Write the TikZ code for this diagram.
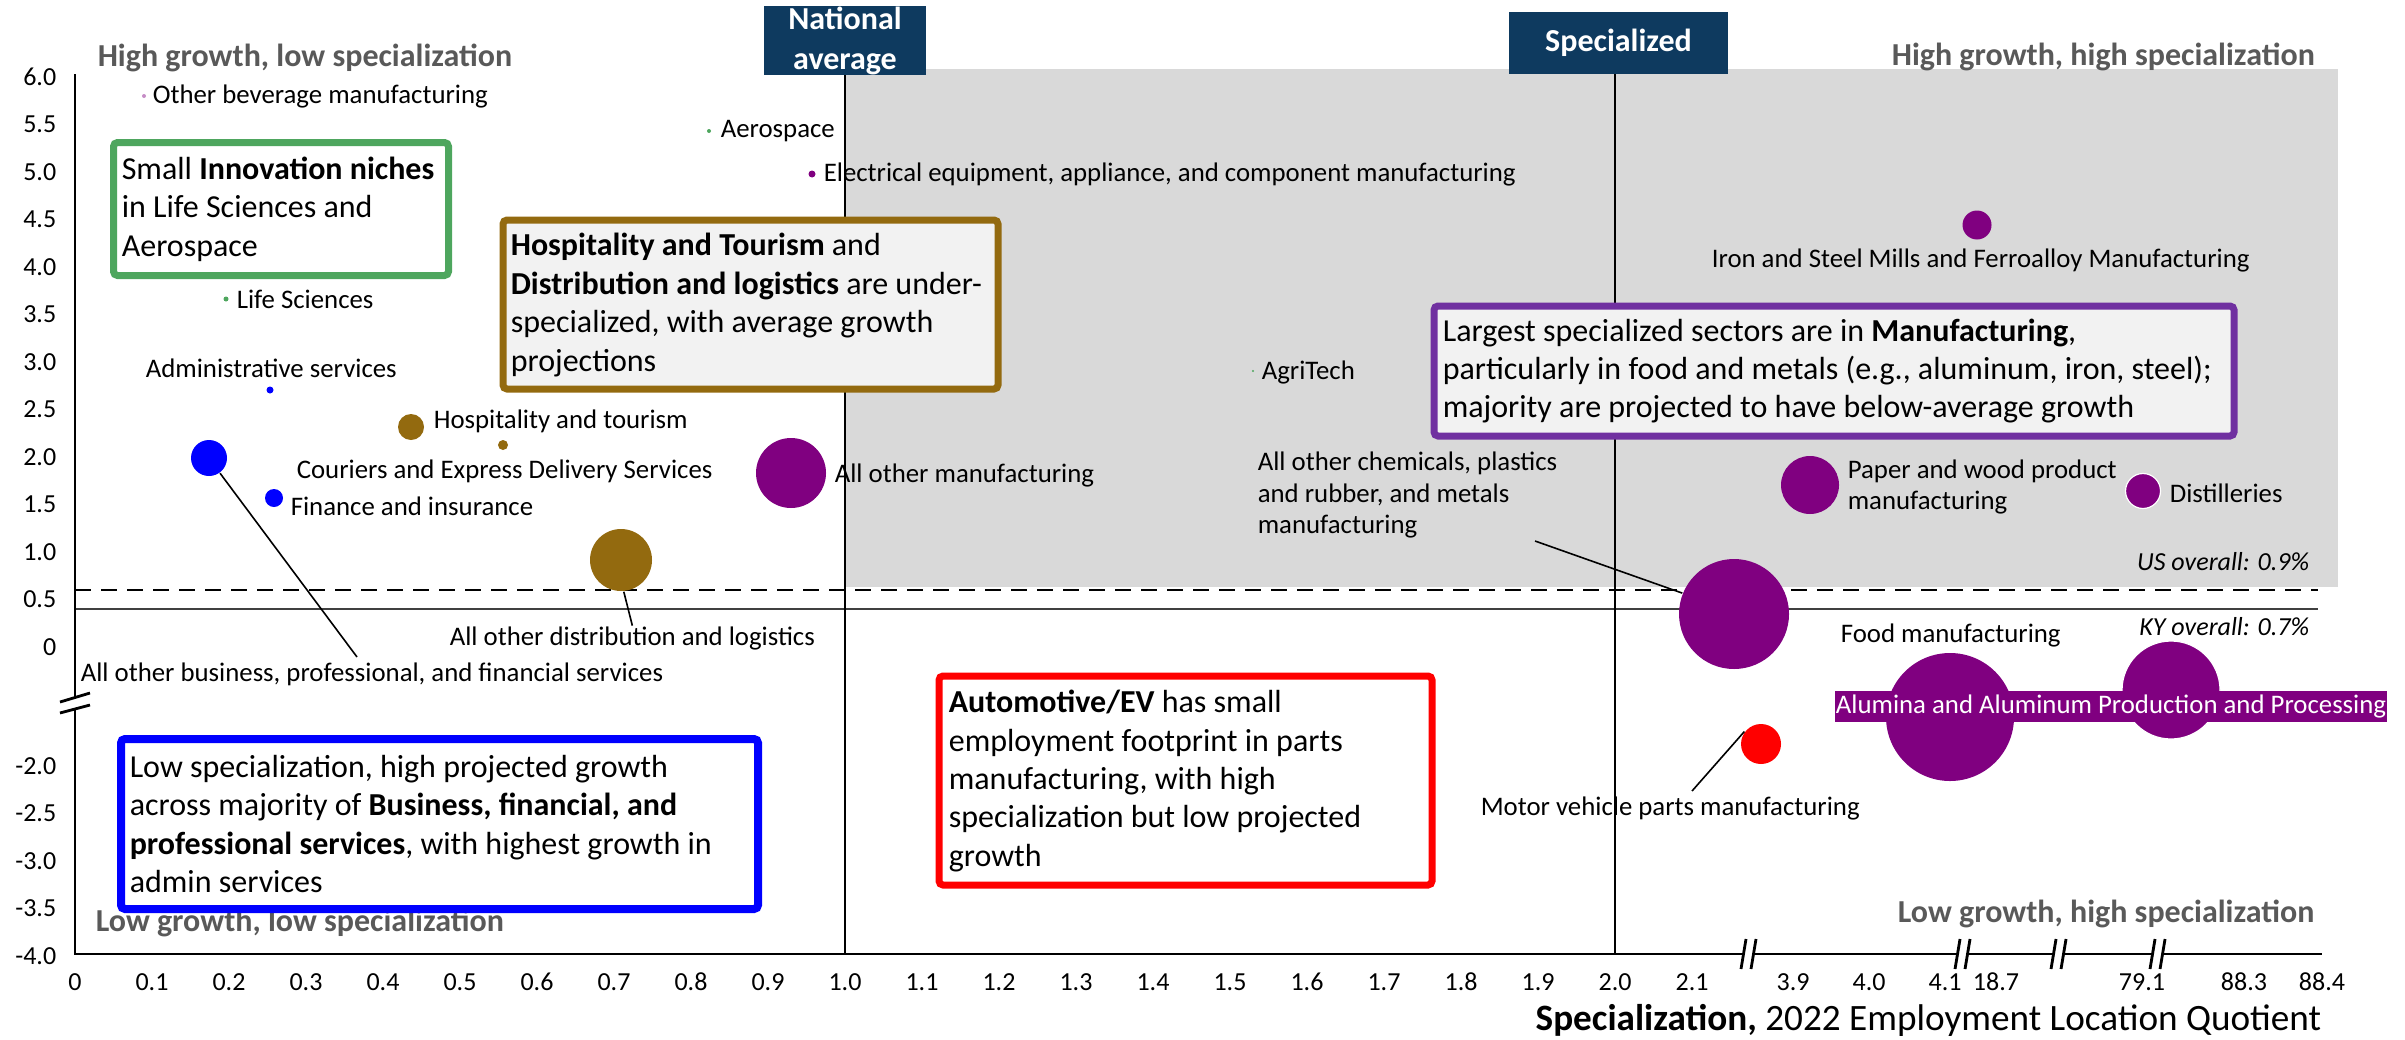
\documentclass[tikz,border=0pt]{standalone}
\usepackage{fontspec}
\setmainfont{Carlito}
\definecolor{navyhead}{HTML}{0E3A5F}
\definecolor{quadgray}{HTML}{595959}
\definecolor{zonegray}{HTML}{D9D9D9}
\definecolor{notefill}{HTML}{F2F2F2}
\definecolor{mfgpurple}{HTML}{800080}
\definecolor{mfgborder}{HTML}{7030A0}
\definecolor{svcblue}{HTML}{0000FF}
\definecolor{logbrown}{HTML}{936A0F}
\definecolor{nichegreen}{HTML}{4EA65E}
\definecolor{autored}{HTML}{FF0000}
\definecolor{kyline}{HTML}{404040}
\begin{document}
\begin{tikzpicture}[x=0.25pt, y=-0.25pt,
	bubble/.style={circle, inner sep=0pt, fill=#1},
	bublbl/.style={inner sep=0pt, anchor=west, align=left, font=\fontsize{6.7}{7.9}\selectfont},
	ticklbl/.style={inner sep=0pt, font=\fontsize{6.5}{7.8}\selectfont},
	quadlbl/.style={inner sep=0pt, anchor=west, text=quadgray, font=\bfseries\fontsize{8}{9.6}\selectfont},
	notebox/.style={line width=1.75pt, fill=white, rounded corners=1pt},
	notetext/.style={inner sep=0pt, anchor=west, align=left, font=\fontsize{8}{9.6}\selectfont},
	headbox/.style={fill=navyhead, draw=none},
	headtext/.style={text=white, align=center, font=\bfseries\fontsize{8}{10}\selectfont},
	axisline/.style={line width=0.7pt, black},
	refline/.style={line width=0.5pt, black},
	leader/.style={line width=0.4pt, black}]
	%\draw [step=100,lightgray, very thin] (0,0) grid (2405,1039);
	\useasboundingbox (0,0) rectangle (2405,1039);
	% shaded quadrant
	\fill[zonegray] (845,69) rectangle (2338,587);
	\draw[refline, dashed, dash pattern=on 4pt off 2.5pt] (75,590) -- (2318,590);
	\draw[refline, kyline] (75,609) -- (2318,609);
	\draw[refline] (845,75) -- (845,954);
	\draw[refline] (1615,74) -- (1615,954);

	% axes, with the breaks
	\draw[axisline] (75,74) -- (75,697);
	\draw[axisline] (75,709) -- (75,954) -- (2322,954);
	\draw[axisline] (60,702) -- (90,693);
	\draw[axisline] (60,713) -- (90,705);
	\foreach \c in {1749,1963,2059,2158} {
		\fill[white] (\c-5,949) rectangle (\c+4,959);
		\draw[axisline] (\c-8,969) -- (\c-3,939);
		\draw[axisline] (\c+2,969) -- (\c+7,939);
	}
	\foreach \t [count=\i from 0] in {0,0.5,1.0,1.5,2.0,2.5,3.0,3.5,4.0,4.5,5.0,5.5,6.0}
		\node[ticklbl, anchor=east] (ytick\i) at (57,647-47.5*\i) {\t};
	\foreach \t [count=\i from 0] in {-2.0,-2.5,-3.0,-3.5,-4.0}
		\node[ticklbl, anchor=east] (yneg\i) at (57,766+47.5*\i) {\t};
	\foreach \t [count=\i from 0] in {0,0.1,0.2,0.3,0.4,0.5,0.6,0.7,0.8,0.9,1.0,1.1,1.2,1.3,1.4,1.5,1.6,1.7,1.8,1.9,2.0,2.1}
		\node[ticklbl] (xtick\i) at (75+77*\i,982) {\t};
	\foreach \t/\x [count=\i] in {3.9/1793,4.0/1869,4.1/1945,18.7/1996,79.1/2142,88.3/2244,88.4/2322}
		\node[ticklbl] (xbrk\i) at (\x,982) {\t};
	\node[inner sep=0pt, anchor=base east, font=\fontsize{9.3}{11}\selectfont] (xtitle) at (2322,1030) {\textbf{Specialization,} 2022 Employment Location Quotient};

	\draw[headbox] (764,6) rectangle (926,75) node[pos=.5, headtext] (natavg) {National\\average};
	\draw[headbox] (1509,12) rectangle (1728,74) node[pos=.5, headtext] (spec) {Specialized};

	\node[quadlbl] (hilo) at (97,58) {High growth, low specialization};
	\node[quadlbl] (hihi) at (1891,57) {High growth, high specialization};
	\node[quadlbl] (lolo) at (95,923) {Low growth, low specialization};
	\node[quadlbl] (lohi) at (1897,914) {Low growth, high specialization};

	% bubbles
	\node[bubble=mfgpurple!45, minimum size=1pt] (bev) at (144,96) {};
	\node[bubble=nichegreen, minimum size=1pt] (aero) at (709,131) {};
	\node[bubble=mfgpurple, minimum size=1.75pt] (elec) at (812,174) {};
	\node[bubble=nichegreen, minimum size=1.25pt] (life) at (226,299) {};
	\node[bubble=svcblue, minimum size=1.75pt] (admin) at (270,390) {};
	\node[bubble=logbrown, minimum size=6.5pt] (hosp) at (411,427) {};
	\node[bubble=logbrown, minimum size=2.5pt] (courier) at (503,445) {};
	\node[bubble=svcblue, minimum size=9pt] (biz) at (209,458) {};
	\node[bubble=svcblue, minimum size=4.5pt] (fin) at (274,498) {};
	\node[bubble=logbrown, minimum size=15.5pt] (dist) at (621,560) {};
	\node[bubble=mfgpurple, minimum size=17.5pt] (allmfg) at (791,473) {};
	\node[bubble=nichegreen, minimum size=0.6pt] (agri) at (1253,371) {};
	\node[bubble=mfgpurple, minimum size=7.25pt] (iron) at (1977,225) {};
	\node[bubble=mfgpurple, minimum size=14.5pt] (paper) at (1810,485) {};
	\node[bubble=mfgpurple, draw=white, line width=0.3pt, minimum size=8.75pt] (distil) at (2143,491) {};
	\node[bubble=mfgpurple, minimum size=27.5pt] (chem) at (1734,614) {};
	\node[bubble=mfgpurple, minimum size=32pt] (food) at (1950,717) {};
	\node[bubble=mfgpurple, draw=white, line width=0.3pt, minimum size=24.5pt] (alum) at (2171,690) {};
	\node[bubble=autored, minimum size=10pt] (motor) at (1761,744) {};

	% labels
	\node[bublbl] (bevlbl) at (152,96) {Other beverage manufacturing};
	\node[bublbl] (aerolbl) at (720,131) {Aerospace};
	\node[bublbl] (eleclbl) at (823,174) {Electrical equipment, appliance, and component manufacturing};
	\node[bublbl] (lifelbl) at (236,299) {Life Sciences};
	\node[bublbl] (adminlbl) at (145,368) {Administrative services};
	\node[bublbl] (hosplbl) at (433,421) {Hospitality and tourism};
	\node[bublbl] (courierlbl) at (296,471) {Couriers and Express Delivery Services};
	\node[bublbl] (finlbl) at (290,506) {Finance and insurance};
	\node[bublbl] (bizlbl) at (80,674) {All other business, professional, and financial services};
	\node[bublbl] (distlbl) at (449,638) {All other distribution and logistics};
	\node[bublbl] (allmfglbl) at (834,475) {All other manufacturing};
	\node[bublbl] (agrilbl) at (1261,372) {AgriTech};
	\node[bublbl] (ironlbl) at (1711,260) {Iron and Steel Mills and Ferroalloy Manufacturing};
	\node[bublbl] (paperlbl) at (1847,487) {Paper and wood product\\manufacturing};
	\node[bublbl] (distillbl) at (2169,493) {Distilleries};
	\node[bublbl] (chemlbl) at (1257,495) {All other chemicals, plastics\\and rubber, and metals\\manufacturing};
	\node[bublbl] (foodlbl) at (1840,635) {Food manufacturing};
	\node[bublbl] (motorlbl) at (1480,808) {Motor vehicle parts manufacturing};
	\node[fill=mfgpurple, text=white, inner sep=0pt, minimum width=138pt, minimum height=7.75pt, font=\fontsize{6.7}{8}\selectfont] (alumlbl) at (2111,706.5) {Alumina and Aluminum Production and Processing};

	\coordinate (biztip) at (357,657);
	\coordinate (chemtip) at (1535,541);
	\coordinate (motortip) at (1692,791);
	\draw[leader] (biz.-54) -- (biztip);
	\draw[leader] (dist.-85) -- (distlbl.north);
	\draw[leader] (chemtip) -- (chem.158);
	\draw[leader] (motor.143) -- (motortip);

	\node[bublbl, anchor=east, font=\itshape\fontsize{6.5}{7.8}\selectfont] (uslbl) at (2310,562) {US overall: 0.9\%};
	\node[bublbl, anchor=east, font=\itshape\fontsize{6.5}{7.8}\selectfont] (kylbl) at (2310,627) {KY overall: 0.7\%};

	% call-out boxes
	\draw[notebox, draw=nichegreen] (113.5,142.5) rectangle (448.5,275.5);
	\node[notetext] (niche) at (121,209) {Small \textbf{Innovation niches}\\in Life Sciences and\\Aerospace};
	\draw[notebox, draw=logbrown, fill=notefill] (503,220) rectangle (998,389);
	\node[notetext] (hospnote) at (510,305) {\textbf{Hospitality and Tourism} and\\\textbf{Distribution and logistics} are under-\\specialized, with average growth\\projections};
	\draw[notebox, draw=mfgborder, fill=notefill] (1434,306) rectangle (2234,436);
	\node[notetext] (mfgnote) at (1442,371) {Largest specialized sectors are in \textbf{Manufacturing},\\particularly in food and metals (e.g., aluminum, iron, steel);\\majority are projected to have below-average growth};
	\draw[notebox, draw=svcblue, line width=2pt] (121,739) rectangle (758,909);
	\node[notetext] (svcnote) at (129,824) {Low specialization, high projected growth\\across majority of \textbf{Business, financial, and}\\\textbf{professional services}, with highest growth in\\admin services};
	\draw[notebox, draw=autored] (939,676) rectangle (1432,885);
	\node[notetext] (autonote) at (948,781) {\textbf{Automotive/EV} has small\\employment footprint in parts\\manufacturing, with high\\specialization but low projected\\growth};
\end{tikzpicture}
\end{document}
